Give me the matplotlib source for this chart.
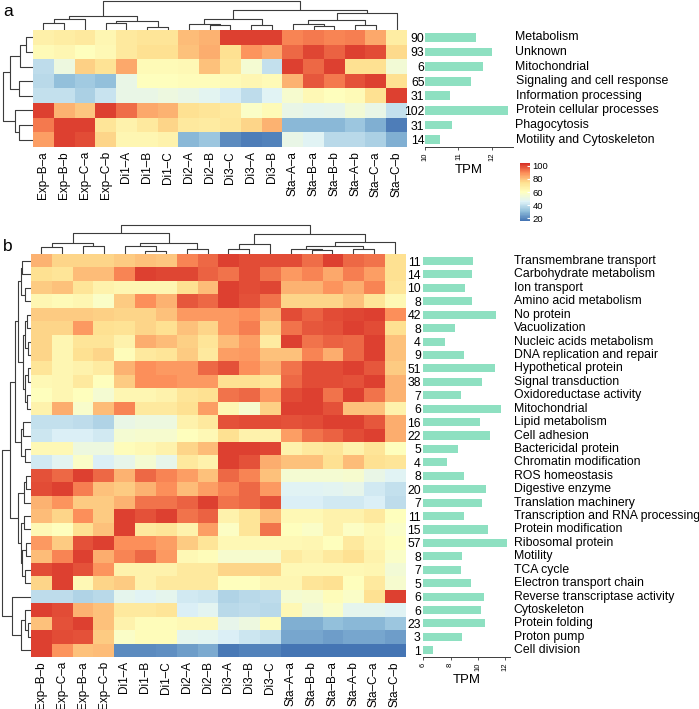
"""Two clustered heatmaps (panels a and b) with TPM bar columns."""

import numpy as np
import matplotlib

matplotlib.use("Agg")
import matplotlib.pyplot as plt
from matplotlib.colors import LinearSegmentedColormap, Normalize
from matplotlib.cm import ScalarMappable

plt.rcParams["font.family"] = ["Liberation Sans", "DejaVu Sans"]

# ---------------- data: panel a ----------------
a_columns = ["Exp–B–a", "Exp–B–b", "Exp–C–a", "Exp–C–b", "Di1–A", "Di1–B", "Di1–C",
             "Di2–A", "Di2–B", "Di3–C", "Di3–A", "Di3–B", "Sta–A–a", "Sta–B–a",
             "Sta–B–b", "Sta–A–b", "Sta–C–a", "Sta–C–b"]
a_categories = ["Metabolism", "Unknown", "Mitochondrial", "Signaling and cell response",
                "Information processing", "Protein cellular processes", "Phagocytosis",
                "Motility and Cytoskeleton"]
a_counts = [90, 93, 6, 65, 31, 102, 31, 14]
a_tpm = [11.52, 11.99, 11.73, 11.38, 10.75, 12.49, 10.81, 10.44]
a_values = [
    [67, 68, 70, 64, 70, 72, 72, 81, 82, 101, 101, 101, 90, 92, 90, 91, 84, 68],
    [62, 64, 60, 63, 70, 74, 74, 80, 83, 74, 88, 84, 95, 100, 96, 101, 99, 75],
    [39, 52, 77, 73, 84, 62, 62, 63, 80, 72, 55, 40, 101, 95, 101, 74, 74, 54],
    [38, 31, 34, 31, 50, 60, 60, 61, 61, 62, 64, 62, 82, 97, 92, 98, 101, 74],
    [40, 40, 36, 41, 50, 50, 52, 50, 47, 44, 39, 46, 56, 63, 60, 62, 74, 101],
    [101, 82, 79, 101, 94, 84, 82, 74, 72, 70, 58, 62, 50, 48, 49, 54, 50, 40],
    [92, 101, 101, 72, 66, 70, 76, 70, 69, 71, 76, 82, 30, 30, 30, 33, 28, 18],
    [86, 101, 99, 76, 64, 64, 66, 30, 33, 21, 18, 19, 50, 46, 38, 38, 36, 28],
]
# merges as (node, node, height); nodes >= n refer to earlier merges
a_col_tree = [(0, 1, 6.7), (18, 2, 10.7), (3, 4, 6.7), (5, 6, 2.7), (20, 21, 9.3),
              (19, 22, 14), (8, 9, 5.3), (7, 24, 6), (10, 11, 5.3), (25, 26, 10.7),
              (13, 14, 4.3), (12, 28, 5.7), (15, 16, 5), (29, 30, 10), (31, 17, 16.7),
              (27, 32, 20), (23, 33, 29)]
a_row_tree = [(0, 1, 7), (8, 2, 13), (3, 4, 14), (9, 10, 23), (6, 7, 13.7),
              (5, 12, 18), (11, 13, 30)]

# ---------------- data: panel b ----------------
b_columns = ["Exp–B–b", "Exp–C–a", "Exp–B–a", "Exp–C–b", "Di1–A", "Di1–B", "Di1–C",
             "Di2–A", "Di2–B", "Di3–A", "Di3–B", "Di3–C", "Sta–A–a", "Sta–B–b",
             "Sta–B–a", "Sta–A–b", "Sta–C–a", "Sta–C–b"]
b_categories = ["Transmembrane transport", "Carbohydrate metabolism", "Ion transport",
                "Amino acid metabolism", "No protein", "Vacuolization",
                "Nucleic acids metabolism", "DNA replication and repair",
                "Hypothetical protein", "Signal transduction", "Oxidoreductase activity",
                "Mitochondrial", "Lipid metabolism", "Cell adhesion", "Bactericidal protein",
                "Chromatin modification", "ROS homeostasis", "Digestive enzyme",
                "Translation machinery", "Transcription and RNA processing",
                "Protein modification", "Ribosomal protein", "Motility", "TCA cycle",
                "Electron transport chain", "Reverse transcriptase activity", "Cytoskeleton",
                "Protein folding", "Proton pump", "Cell division"]
b_counts = [11, 14, 10, 8, 42, 8, 4, 9, 51, 38, 7, 6, 16, 22, 5, 4, 8, 20, 7, 11, 15,
            57, 8, 7, 5, 6, 6, 23, 3, 1]
b_tpm = [9.65, 9.56, 9.07, 9.58, 11.37, 8.35, 7.57, 8.99, 11.25, 10.34, 8.75, 11.71,
         10.17, 10.9, 8.55, 7.72, 9.02, 10.59, 10.34, 8.99, 10.76, 12.13, 8.87, 8.77,
         9.51, 10.46, 10.24, 10.54, 8.87, 6.69]
b_values = [
    [82, 76, 76, 76, 78, 80, 79, 90, 95, 101, 99, 99, 99, 94, 101, 95, 93, 74],
    [74, 72, 81, 81, 90, 101, 100, 100, 96, 93, 99, 93, 87, 90, 84, 91, 86, 74],
    [78, 80, 72, 66, 64, 64, 64, 74, 81, 101, 99, 100, 82, 82, 88, 83, 90, 72],
    [64, 62, 64, 58, 78, 89, 82, 97, 95, 101, 98, 93, 76, 76, 76, 80, 72, 63],
    [78, 78, 78, 77, 76, 76, 80, 87, 87, 87, 89, 82, 99, 96, 99, 100, 101, 89],
    [76, 76, 87, 74, 73, 76, 74, 80, 76, 87, 91, 77, 93, 97, 98, 101, 99, 74],
    [76, 64, 72, 72, 66, 83, 81, 77, 72, 81, 86, 69, 101, 93, 96, 95, 101, 80],
    [76, 64, 74, 76, 61, 70, 72, 78, 70, 86, 87, 80, 80, 90, 83, 95, 101, 80],
    [72, 64, 66, 69, 82, 89, 87, 87, 95, 98, 89, 83, 93, 99, 99, 101, 97, 78],
    [63, 64, 70, 60, 78, 89, 89, 87, 87, 74, 74, 72, 95, 99, 99, 98, 101, 82],
    [60, 64, 60, 55, 64, 64, 66, 72, 74, 93, 95, 87, 99, 101, 93, 101, 93, 82],
    [66, 83, 57, 81, 90, 70, 70, 74, 86, 64, 56, 77, 101, 101, 98, 80, 80, 66],
    [40, 40, 39, 37, 50, 52, 52, 66, 70, 98, 99, 99, 98, 99, 101, 101, 97, 83],
    [42, 45, 45, 43, 55, 56, 56, 60, 63, 74, 66, 66, 86, 93, 96, 99, 101, 83],
    [63, 63, 52, 52, 61, 63, 66, 76, 81, 101, 101, 100, 66, 70, 72, 66, 72, 60],
    [43, 47, 58, 45, 49, 55, 49, 70, 66, 101, 98, 83, 80, 80, 74, 81, 74, 72],
    [98, 95, 101, 95, 82, 95, 90, 86, 80, 95, 90, 80, 55, 55, 55, 56, 50, 46],
    [99, 101, 91, 80, 78, 82, 89, 81, 86, 90, 95, 87, 46, 46, 47, 49, 43, 40],
    [82, 88, 78, 78, 82, 93, 93, 96, 101, 93, 95, 98, 45, 45, 43, 43, 45, 39],
    [81, 76, 89, 78, 101, 98, 101, 93, 96, 66, 72, 81, 63, 63, 66, 66, 70, 60],
    [63, 60, 74, 80, 101, 70, 72, 66, 86, 59, 72, 93, 60, 58, 66, 59, 63, 58],
    [87, 78, 98, 101, 89, 89, 86, 78, 72, 63, 63, 63, 63, 64, 60, 70, 64, 60],
    [81, 90, 101, 83, 90, 95, 87, 63, 61, 56, 56, 56, 69, 66, 70, 74, 66, 58],
    [99, 101, 98, 88, 66, 66, 66, 70, 70, 76, 76, 76, 63, 63, 63, 63, 64, 54],
    [76, 101, 63, 76, 78, 66, 70, 70, 70, 60, 60, 64, 64, 72, 74, 60, 70, 56],
    [39, 39, 37, 38, 48, 46, 48, 43, 42, 37, 38, 39, 55, 56, 61, 58, 74, 101],
    [101, 99, 82, 80, 70, 70, 72, 45, 47, 38, 39, 38, 63, 53, 58, 48, 48, 46],
    [80, 98, 101, 80, 66, 61, 61, 63, 63, 49, 52, 61, 28, 28, 31, 30, 30, 33],
    [101, 99, 98, 78, 58, 61, 61, 48, 47, 45, 42, 40, 26, 26, 24, 26, 26, 24],
    [101, 88, 80, 81, 21, 21, 22, 24, 27, 17, 19, 19, 15, 15, 15, 15, 16, 16],
]
b_col_tree = [(0, 1, 7), (2, 3, 8.7), (18, 19, 11), (5, 6, 3.3), (4, 21, 8.7),
              (7, 8, 5.3), (22, 23, 11.7), (20, 24, 21), (9, 10, 5), (26, 11, 10.3),
              (13, 14, 4.3), (12, 28, 5.3), (15, 16, 5), (29, 30, 8.3), (31, 17, 12.7),
              (27, 32, 20.3), (25, 33, 29.3)]
b_row_tree = [(0, 1, 9), (2, 3, 6), (30, 31, 10.5), (4, 5, 4), (6, 7, 3), (8, 9, 3),
              (10, 11, 4), (33, 34, 6), (35, 36, 6), (37, 38, 8), (32, 39, 13),
              (12, 13, 8), (14, 15, 6), (41, 42, 10), (40, 43, 16), (16, 17, 5),
              (45, 18, 7), (19, 20, 7), (21, 22, 5), (23, 24, 6), (48, 49, 9),
              (47, 50, 10), (46, 51, 13), (44, 52, 21.5), (27, 28, 3), (26, 54, 6),
              (55, 29, 10), (25, 56, 19), (53, 57, 29)]

# ---------------- layout ----------------
W, H = 699, 709
fig = plt.figure(figsize=(W / 100, H / 100), dpi=100)
cmap = LinearSegmentedColormap.from_list(
    "pheat", ["#4575B4", "#91BFDB", "#E0F3F8", "#FFFFBF", "#FEE090", "#FC8D59", "#D73027"], N=100)
norm = Normalize(16, 104)
BAR_COLOR = "#8ee0c1"
LINE_COLOR = "#3c3c3c"


def px_box(x0, y0, x1, y1):
    return [x0 / W, 1 - y1 / H, (x1 - x0) / W, (y1 - y0) / H]


def draw_tree(ax, merges, n, top):
    pos = {i: float(i) for i in range(n)}
    hgt = {i: 0.0 for i in range(n)}
    for k, (a, b, h) in enumerate(merges):
        p = [pos[a], pos[a], pos[b], pos[b]]
        q = [hgt[a], h, h, hgt[b]]
        if top:
            ax.plot(p, q, color=LINE_COLOR, lw=0.8, solid_capstyle="butt")
        else:
            ax.plot(q, p, color=LINE_COLOR, lw=0.8, solid_capstyle="butt")
        pos[n + k] = (pos[a] + pos[b]) / 2
        hgt[n + k] = h


def panel(hx, hy, values, columns, col_tree, row_tree, counts, tpm, categories,
          bar_x, bar_lim, bar_ticks, num_pad, label_x, label_size, top_y0):
    data = np.array(values, dtype=float)
    nr, nc = data.shape
    hx0, hx1 = hx
    hy0, hy1 = hy

    ax = fig.add_axes(px_box(hx0, hy0, hx1, hy1))
    ax.imshow(data, cmap=cmap, norm=norm, aspect="auto", interpolation="nearest")
    ax.set_xticks(range(nc))
    ax.set_xticklabels(columns, rotation=90, fontsize=8.5)
    ax.set_yticks([])
    ax.tick_params(axis="x", length=0, pad=3)
    for s in ax.spines.values():
        s.set_visible(False)

    axt = fig.add_axes(px_box(hx0, top_y0, hx1, hy0))
    draw_tree(axt, col_tree, nc, True)
    axt.set_xlim(-0.5, nc - 0.5)
    axt.set_ylim(0, hy0 - top_y0)
    axt.axis("off")

    axl = fig.add_axes(px_box(0, hy0, hx0, hy1))
    draw_tree(axl, row_tree, nr, False)
    axl.set_xlim(hx0, 0)
    axl.set_ylim(nr - 0.5, -0.5)
    axl.axis("off")

    axb = fig.add_axes(px_box(bar_x[0], hy0, bar_x[1], hy1))
    axb.barh(range(nr), tpm, height=0.6, color=BAR_COLOR)
    axb.set_xlim(*bar_lim)
    axb.set_ylim(nr - 0.5, -0.5)
    axb.set_yticks(range(nr))
    axb.set_yticklabels([str(c) for c in counts], fontsize=8.8)
    axb.tick_params(axis="y", length=0, pad=num_pad)
    axb.set_xticks(bar_ticks)
    axb.set_xticklabels([str(t) for t in bar_ticks], rotation=90, fontsize=5.5)
    axb.tick_params(axis="x", length=2.5, width=0.6, pad=1.5, color=LINE_COLOR)
    axb.set_xlabel("TPM", fontsize=9.5, labelpad=2)
    for side in ("top", "right", "left"):
        axb.spines[side].set_visible(False)
    axb.spines["bottom"].set_linewidth(0.7)
    axb.spines["bottom"].set_color(LINE_COLOR)
    span = bar_x[1] - bar_x[0]
    for i, cat in enumerate(categories):
        axb.text((label_x - bar_x[0]) / span, i, cat, transform=axb.get_yaxis_transform(),
                 ha="left", va="center", fontsize=label_size, clip_on=False)


panel((33, 407), (30, 147), a_values, a_columns, a_col_tree, a_row_tree, a_counts, a_tpm,
      a_categories, (425, 512.7), (10, 12.62), [10, 11, 12], 0.4, 515.5, 8.9, 0)
panel((31, 405), (254.3, 657), b_values, b_columns, b_col_tree, b_row_tree, b_counts, b_tpm,
      b_categories, (423.3, 510), (6, 12.37), [6, 8, 10, 12], 1.8, 513.7, 8.8, 224)

cax = fig.add_axes(px_box(520, 163, 530, 221))
cb = fig.colorbar(ScalarMappable(norm=norm, cmap=cmap), cax=cax, ticks=[20, 40, 60, 80, 100])
cb.outline.set_visible(False)
cax.tick_params(labelsize=6.8, length=2, width=0.8, color="white", direction="in", pad=2)

fig.text(3 / W, 1 - 16 / H, "a", fontsize=12.5)
fig.text(3 / W, 1 - 251 / H, "b", fontsize=12.5)

fig.savefig("out.png", dpi=100)
plt.close(fig)
